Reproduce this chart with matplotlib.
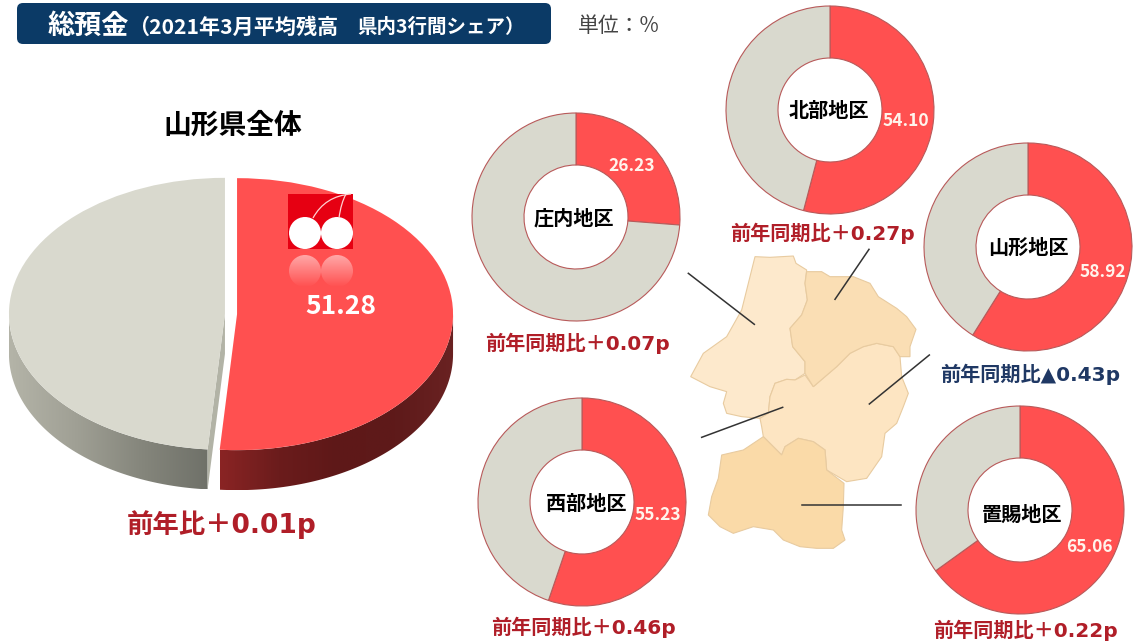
import numpy as np
import matplotlib
matplotlib.use("Agg")
import matplotlib.pyplot as plt
from matplotlib.colors import LinearSegmentedColormap
from matplotlib.patches import Circle, FancyBboxPatch, PathPatch, Polygon, Rectangle
from matplotlib.path import Path

plt.rcParams["font.family"] = ["Noto Sans CJK JP", "DejaVu Sans"]

W, H = 1133, 644

# data
total_share = 51.28
total_change = "前年比\uff0b0.01p"
districts = ["庄内地区", "北部地区", "山形地区", "西部地区", "置賜地区"]
shares = [26.23, 54.10, 58.92, 55.23, 65.06]
changes = ["前年同期比\uff0b0.07p", "前年同期比\uff0b0.27p", "前年同期比▲0.43p",
           "前年同期比\uff0b0.46p", "前年同期比\uff0b0.22p"]

# layout in picture pixels
centers = [(576, 217), (830, 110), (1028, 247), (582, 502), (1020, 510)]
value_pos = [(632, 166), (906, 121), (1103, 272), (658, 515), (1089, 547)]
change_pos = [(577, 343), (822, 233), (1030, 374), (583, 627), (1025, 630)]
name_pos = [(574, 218), (829, 110), (1028, 247), (586, 503), (1022, 514)]

RED = "#FF5050"
GREY = "#D9D9CE"
DARKRED = "#B01E28"
NAVY = "#1F3864"
WIDE = ["DejaVu Sans", "Noto Sans CJK JP"]

fig = plt.figure(figsize=(W / 100, H / 100), dpi=100, facecolor="white")


def px_axes(x0, y0, x1, y1):
    return fig.add_axes([x0 / W, 1 - y1 / H, (x1 - x0) / W, (y1 - y0) / H])


# map (crop coordinates)
shonai = [(255, 50), (300, 52), (370, 48), (378, 70), (410, 90), (405, 130), (412, 180), (395, 225),
          (360, 265), (368, 320), (405, 365), (405, 400), (375, 420), (350, 418), (315, 430), (300, 470),
          (295, 520), (270, 535), (215, 530), (170, 520), (160, 490), (170, 455), (120, 440), (62, 410),
          (100, 340), (170, 290), (215, 210), (235, 130)]
hokubu = [(410, 95), (455, 95), (480, 110), (550, 110), (600, 130), (625, 170), (680, 205), (710, 230),
          (738, 268), (720, 320), (720, 350), (690, 350), (670, 320), (620, 310), (580, 320), (540, 340),
          (500, 380), (430, 440), (405, 400), (405, 365), (368, 320), (360, 265), (395, 225), (412, 180),
          (405, 130)]
yamagata = [(315, 430), (350, 418), (375, 420), (405, 405), (430, 440), (500, 380), (540, 340), (580, 320),
            (620, 310), (670, 320), (690, 350), (695, 410), (715, 460), (700, 500), (680, 550), (645, 580),
            (635, 650), (590, 715), (530, 725), (470, 690), (465, 630), (430, 605), (385, 595), (345, 620),
            (335, 645), (280, 590), (275, 560), (270, 535), (295, 520), (300, 470)]
okitama = [(280, 590), (335, 645), (345, 620), (385, 595), (430, 605), (465, 630), (470, 690), (522, 730),
           (520, 800), (515, 870), (525, 900), (490, 925), (440, 925), (390, 920), (340, 900), (310, 870),
           (250, 860), (190, 880), (150, 860), (115, 825), (125, 770), (145, 715), (155, 645), (220, 630)]
map_lines = [((55, 100), (253, 253)), ((597, 28), (495, 178)), ((778, 345), (598, 492)),
             ((338, 502), (95, 592)), ((397, 795), (692, 795))]


def crop(pts):
    return [(x / 3 + 670, y / 3 + 240) for x, y in pts]


back = fig.add_axes([0, 0, 1, 1])
back.set_xlim(0, W)
back.set_ylim(H, 0)
back.axis("off")
for pts, col in [(shonai, "#FDE9CC"), (yamagata, "#FDE5C2"), (hokubu, "#FADEB4"), (okitama, "#FADAA8")]:
    back.add_patch(Polygon(crop(pts), closed=True, facecolor=col, edgecolor="#E8CBA0", linewidth=0.8))
for a, b in map_lines:
    (xa, ya), (xb, yb) = crop([a, b])
    back.plot([xa, xb], [ya, yb], color="#333333", linewidth=1.1)

# main pie, squashed into an ellipse with a side wall
rx, ry = 216, 136
cx, cy = 231, 314
depth = 40 / ry
pie_ax = px_axes(cx - 1.1 * rx, cy - 1.1 * ry, cx + 1.1 * rx, cy + 1.5 * ry)
wedges, _ = pie_ax.pie([total_share, 100 - total_share], colors=[RED, GREY], startangle=90,
                       counterclock=False, explode=[0.028, 0.028], wedgeprops={"zorder": 5})
pie_ax.set_aspect("auto")
red_w, grey_w = wedges


def side_wall(wedge, t0, t1, colors):
    t = np.radians(np.linspace(t0, t1, 100))
    x = wedge.center[0] + np.cos(t)
    y = wedge.center[1] + np.sin(t)
    pts = np.r_[np.c_[x, y], np.c_[x, y - depth][::-1]]
    patch = Polygon(pts, closed=True, facecolor="none", edgecolor="none", zorder=1)
    pie_ax.add_patch(patch)
    cmap = LinearSegmentedColormap.from_list("side", colors)
    im = pie_ax.imshow(np.linspace(0, 1, 256).reshape(1, -1), cmap=cmap, aspect="auto", zorder=1,
                       extent=[x.min(), x.max(), y.min() - depth, y.max()])
    im.set_clip_path(patch)


side_wall(red_w, red_w.theta1, 0, ["#8A2424", "#6B1C1C", "#5E1818", "#5E1A1A", "#6A2222"])
side_wall(grey_w, -180, grey_w.theta2, ["#B4B4A8", "#A0A095", "#85867C", "#6F7169"])
pie_ax.set_xlim(-1.1, 1.1)
pie_ax.set_ylim(-1.5, 1.1)

# cut face of the grey slice
gx, gy = grey_w.center
ang = np.radians(grey_w.theta2)
ex, ey = gx + np.cos(ang), gy + np.sin(ang)
pie_ax.add_patch(Polygon([(gx, gy), (ex, ey), (ex, ey - depth), (gx, gy - depth)], closed=True,
                         facecolor="#B2B3A6", edgecolor="none", zorder=2))

# district donuts
R = 104
for share, (dx, dy) in zip(shares, centers):
    ax = px_axes(dx - R - 2, dy - R - 2, dx + R + 2, dy + R + 2)
    ax.pie([share, 100 - share], colors=[RED, GREY], startangle=90, counterclock=False,
           radius=R, wedgeprops={"width": R * 0.5, "edgecolor": "#B85A5A", "linewidth": 0.8})
    ax.set_xlim(-R - 2, R + 2)
    ax.set_ylim(-R - 2, R + 2)

# everything on top
top = fig.add_axes([0, 0, 1, 1])
top.patch.set_visible(False)
top.axis("off")

top.add_patch(FancyBboxPatch((20, 6), 528, 35, boxstyle="round,pad=3,rounding_size=6",
                             facecolor="#0B3A66", edgecolor="none"))
top.text(48, 26, "総預金", color="white", fontsize=19.5, fontweight="bold", va="center")
top.text(128, 27, "\uff082021年3月平均残高", color="white", fontsize=15.2, fontweight="bold", va="center")
top.text(357, 27, "県内3行間シェア\uff09", color="white", fontsize=14, fontweight="bold", va="center")
top.text(578, 26, "単位\uff1a%", color="#444444", fontsize=15, va="center")
top.text(233, 126, "山形県全体", color="black", fontsize=20, fontweight="bold", ha="center", va="center")
top.text(222, 525, total_change, color=DARKRED, fontsize=19, fontweight="bold", ha="center", va="center",
         family=WIDE)

# cherry logo
top.add_patch(Rectangle((288, 194), 65, 55, facecolor="#E60012", edgecolor="none"))
for xc in (305, 337):
    top.add_patch(Circle((xc, 233), 16, facecolor="white", edgecolor="none"))
    clip = Circle((xc, 271), 16, transform=top.transData, facecolor="none", edgecolor="none")
    top.add_patch(clip)
    fade = np.ones((64, 1, 4))
    fade[:, 0, 3] = np.linspace(0.5, 0, 64)
    im = top.imshow(fade, extent=[xc - 16, xc + 16, 287, 255], aspect="auto")
    im.set_clip_path(clip)
for verts in ([(351, 194), (325, 196), (313, 218)], [(346, 194), (341, 203), (339, 218)]):
    stem = Path(verts, [Path.MOVETO, Path.CURVE3, Path.CURVE3])
    top.add_patch(PathPatch(stem, facecolor="none", edgecolor="#FFD0D0", linewidth=0.9))
top.text(341, 306, f"{total_share:.2f}", color="white", fontsize=19, fontweight="bold", ha="center", va="center")

for i, name in enumerate(districts):
    top.text(*name_pos[i], name, color="black", fontsize=14.5, fontweight="bold", ha="center", va="center")
    top.text(*value_pos[i], f"{shares[i]:.2f}", color="#FFF4EC", fontsize=12.5, fontweight="bold",
             ha="center", va="center")
    col = NAVY if "▲" in changes[i] else DARKRED
    top.text(*change_pos[i], changes[i], color=col, fontsize=14.5, fontweight="bold", ha="center", va="center",
             family=WIDE)

top.set_xlim(0, W)
top.set_ylim(H, 0)

fig.savefig("out.png", dpi=100)
plt.close(fig)
